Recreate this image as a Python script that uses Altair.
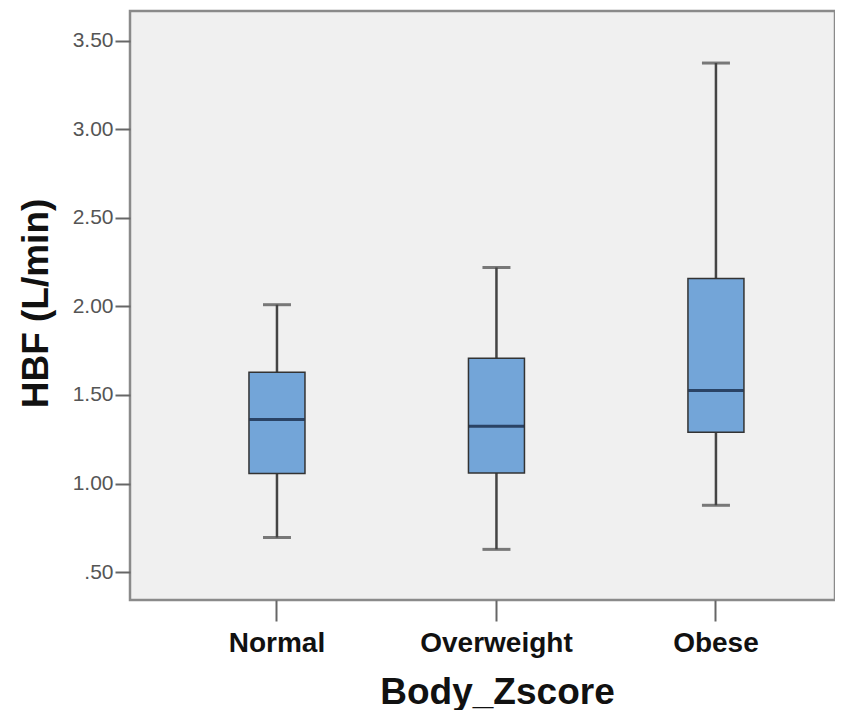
import altair as alt
import pandas as pd

categories = ["Normal", "Overweight", "Obese"]
lower = [0.695, 0.628, 0.877]
q1 = [1.056, 1.060, 1.290]
median = [1.362, 1.323, 1.525]
q3 = [1.628, 1.707, 2.158]
upper = [2.010, 2.220, 3.375]
y_ticks = [0.5, 1.0, 1.5, 2.0, 2.5, 3.0, 3.5]

df = pd.DataFrame({"cat": categories, "lower": lower, "q1": q1,
                   "median": median, "q3": q3, "upper": upper})

FONT = "Liberation Sans"

x_enc = alt.X("cat:N", sort=categories,
              scale=alt.Scale(paddingInner=0, paddingOuter=0.106, align=0.8),
              axis=alt.Axis(title="Body_Zscore", labelAngle=0, labelFont=FONT,
                            labelFontSize=28, labelFontWeight="bold", labelColor="#111",
                            labelBaseline="alphabetic", labelPadding=30,
                            tickSize=21, tickColor="#666", tickWidth=2, domain=False,
                            titleFont=FONT, titleFontSize=37, titleFontWeight="bold",
                            titleColor="#111", titleBaseline="alphabetic", titleAlign="center",
                            titleX=367, titleY=103))

yscale = alt.Scale(domain=[0.342, 3.669], nice=False, zero=False)
y_axis = alt.Axis(title="HBF (L/min)", values=y_ticks, grid=False, domain=False,
                  labelExpr="datum.value < 1 ? replace(format(datum.value, '.2f'), '0.', '.') : format(datum.value, '.2f')",
                  labelFont=FONT, labelFontSize=21, labelColor="#555", labelPadding=2,
                  tickSize=15, tickColor="#666", tickWidth=2,
                  titleFont=FONT, titleFontSize=37, titleFontWeight="bold", titleColor="#111",
                  titleAngle=270, titleBaseline="alphabetic", titleAlign="center",
                  titleX=-83, titleY=292)

base = alt.Chart(df)

whisker = base.mark_rule(color="#444", strokeWidth=2.5).encode(
    x=x_enc, y=alt.Y("lower:Q", scale=yscale, axis=y_axis), y2="upper:Q")

box = base.mark_bar(size=56, fill="#73a5d8", stroke="#333", strokeWidth=1.5).encode(
    x=alt.X("cat:N", sort=categories), y=alt.Y("q1:Q", scale=yscale), y2="q3:Q")

med = base.mark_tick(size=55, thickness=3, color="#0b1a35").encode(
    x=alt.X("cat:N", sort=categories), y=alt.Y("median:Q", scale=yscale))

cap_hi = base.mark_tick(size=28, thickness=3, color="#444").encode(
    x=alt.X("cat:N", sort=categories), y=alt.Y("upper:Q", scale=yscale))
cap_lo = base.mark_tick(size=28, thickness=3, color="#444").encode(
    x=alt.X("cat:N", sort=categories), y=alt.Y("lower:Q", scale=yscale))

chart = alt.layer(whisker, box, med, cap_hi, cap_lo).properties(
    width=705, height=589,
    padding={"left": 122, "top": 3, "right": 0, "bottom": 110},
    autosize=alt.AutoSizeParams(type="none"),
    background="white",
).configure_view(fill="#f0f0f0", stroke="#8a8a8a", strokeWidth=2.5)

chart.save("out.html", embed_options={"renderer": "svg", "actions": False})
